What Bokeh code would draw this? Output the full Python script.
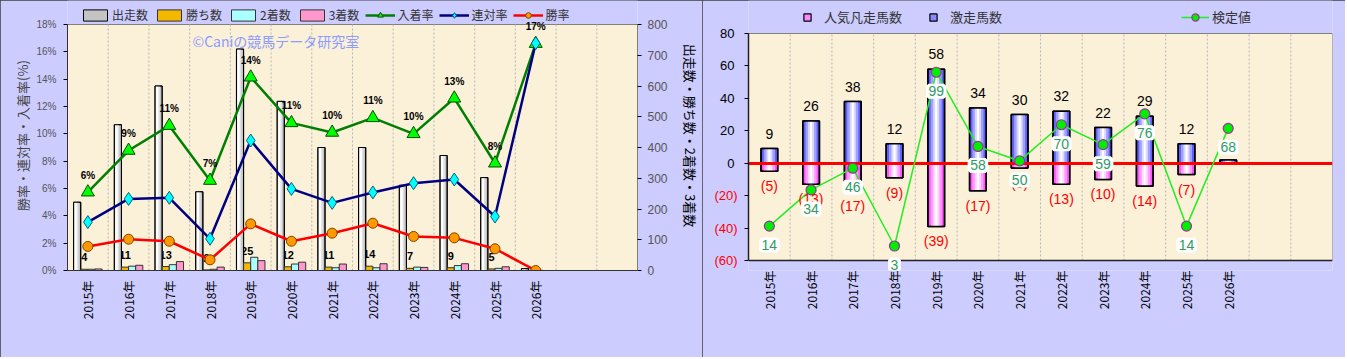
import math
from bokeh.plotting import figure
from bokeh.models import (Range1d, LinearAxis, FixedTicker, ColumnDataSource, Legend,
                          LegendItem, LabelSet, Label)
from bokeh.layouts import row
from bokeh.core.properties import value
from bokeh.embed import file_html
from bokeh.resources import INLINE

# ---------------- data ----------------
years = ["2015年", "2016年", "2017年", "2018年", "2019年", "2020年",
         "2021年", "2022年", "2023年", "2024年", "2025年", "2026年"]
runs = [222, 474, 600, 256, 720, 550, 400, 400, 277, 374, 302, 6]
wins = [4, 11, 13, 2, 25, 12, 11, 14, 7, 9, 5, 0]
seconds = [4, 14, 19, 4, 43, 21, 9, 9, 11, 16, 7, 1]
thirds = [5, 17, 29, 11, 32, 27, 21, 22, 10, 22, 12, 0]
place_rate = [5.73, 8.78, 10.6, 6.58, 14.14, 10.8, 10.1, 11.17, 10.0, 12.6, 7.85, 16.6]
quinella_rate = [3.54, 5.24, 5.32, 2.32, 9.51, 5.97, 4.95, 5.71, 6.39, 6.66, 3.95, 16.63]
win_rate = [1.76, 2.29, 2.14, 0.78, 3.41, 2.14, 2.73, 3.46, 2.49, 2.39, 1.59, 0.0]
rate_ticks = [0, 2, 4, 6, 8, 10, 12, 14, 16, 18]
count_ticks = [0, 100, 200, 300, 400, 500, 600, 700, 800]

fav_fail = [-5, -13, -17, -9, -39, -17, -3, -13, -10, -14, -7, 0]
surge = [9, 26, 38, 12, 58, 34, 30, 32, 22, 29, 12, 2]
kentei = [14, 34, 46, 3, 99, 58, 50, 70, 59, 76, 14, 68]
right_ticks = [-60, -40, -20, 0, 20, 40, 60, 80]
kentei_axis = [-5, 120.4]

# ---------------- style / layout ----------------
BG = "#ccccff"
PLOT_BG = "#fbf0d8"
JP = "Noto Sans CJK JP"
LAT = "Liberation Sans"
H = 357
FRAME_BOTTOM = 270          # both frames end here (frames in a row are aligned)
N_SLOTS = 14
n = len(years)
xs = [i + 0.5 for i in range(n)]
slot_edges = list(range(N_SLOTS + 1))
panel_style = {"outline": "1px solid #404040", "outline-offset": "-1px"}

# plot-area box, in canvas pixels (frame runs from the canvas top to FRAME_BOTTOM,
# the legend lives inside the frame above the plot area)
L_AREA_TOP, L_AREA_BOT = 24, 270
R_AREA_TOP, R_AREA_BOT = 33, 260


def extended(lo, hi, top_px, bot_px):
    per_px = (hi - lo) / (bot_px - top_px)
    return Range1d(lo - (FRAME_BOTTOM - bot_px) * per_px, hi + top_px * per_px)


# ================= LEFT CHART =================
r_lo, r_hi = rate_ticks[0], rate_ticks[-1]
c_lo, c_hi = count_ticks[0], count_ticks[-1]
pl = figure(width=702, height=H,
            x_range=Range1d(0, N_SLOTS),
            y_range=extended(r_lo, r_hi, L_AREA_TOP, L_AREA_BOT),
            output_backend="svg", toolbar_location=None,
            min_border_left=67, min_border_right=64, min_border_top=0,
            min_border_bottom=H - FRAME_BOTTOM,
            background_fill_color=BG, border_fill_color=BG,
            outline_line_color=None, styles=panel_style)
pl.extra_y_ranges = {"cnt": extended(c_lo, c_hi, L_AREA_TOP, L_AREA_BOT)}

xa = pl.xaxis[0]
xa.ticker = FixedTicker(ticks=xs)
xa.major_label_overrides = {x: y for x, y in zip(xs, years)}
xa.major_label_orientation = math.pi / 2
xa.major_tick_line_color = None
xa.minor_tick_line_color = None
xa.major_tick_out = 0
xa.minor_tick_out = 0
xa.axis_line_color = "#333333"
xa.major_label_text_font = JP
xa.major_label_text_font_size = "12px"
xa.major_label_text_color = "#000000"
xa.major_label_standoff = 10

ya = pl.yaxis[0]
ya.ticker = FixedTicker(ticks=rate_ticks)
ya.bounds = (r_lo, r_hi)
ya.major_label_overrides = {t: f"{t}%" for t in rate_ticks}
ya.major_label_text_font = LAT
ya.major_label_text_font_size = "10px"
ya.major_label_text_color = "#555555"
ya.major_tick_out = 4
ya.minor_tick_out = 0
ya.major_tick_in = 0
ya.major_label_standoff = 7
ya.axis_line_color = "#333333"
ya.axis_label = "勝率・連対率・入着率(%)"
ya.axis_label_text_font = JP
ya.axis_label_text_font_size = "13px"
ya.axis_label_text_font_style = "normal"
ya.axis_label_standoff = 1

ra = LinearAxis(y_range_name="cnt", ticker=FixedTicker(ticks=count_ticks),
                axis_label="出走数・勝ち数・2着数・3着数")
ra.bounds = (c_lo, c_hi)
ra.major_label_text_font = LAT
ra.major_label_text_font_size = "12px"
ra.major_label_text_color = "#555555"
ra.major_tick_out = 4
ra.minor_tick_out = 0
ra.major_tick_in = 0
ra.major_label_standoff = 6
ra.axis_line_color = "#808080"
ra.axis_label_text_font = JP
ra.axis_label_text_font_size = "13px"
ra.axis_label_text_font_style = "normal"
ra.axis_label_text_color = "#000000"
ra.axis_label_standoff = 10
pl.add_layout(ra, "right")

pl.xgrid.visible = False
pl.ygrid[0].grid_line_color = "#b8b8b8"
pl.ygrid[0].grid_line_dash = "2 2"

pl.quad(left=0, right=N_SLOTS, bottom=r_lo, top=r_hi, fill_color=PLOT_BG,
        line_color="#808080", line_width=1)
pl.segment(x0=slot_edges, y0=[r_lo] * len(slot_edges), x1=slot_edges,
           y1=[r_hi] * len(slot_edges), line_color="#b8b8b8", line_dash="2 2", line_width=1)

bw = 0.175
offs = [-0.2625, -0.0875, 0.0875, 0.2625]
lsrc = ColumnDataSource(dict(
    x0=[x + offs[0] for x in xs], x1=[x + offs[1] for x in xs],
    x2=[x + offs[2] for x in xs], x3=[x + offs[3] for x in xs],
    x0a=[x + offs[0] - bw * 0.12 for x in xs], x0b=[x + offs[0] - bw * 0.2 for x in xs],
    runs=runs, wins=wins, seconds=seconds, thirds=thirds,
    wlab=[str(w) if w > 0 else "" for w in wins],
    prate=place_rate, qrate=quinella_rate, wrate=win_rate,
    plab=[f"{round(r)}%" for r in place_rate],
    xc=xs))

pl.text(x="x1", y="wins", text="wlab", source=lsrc, y_range_name="cnt",
        text_align="center", text_baseline="middle", y_offset=-12,
        text_font=value(LAT), text_font_size="11px", text_font_style="bold",
        text_color="#000000")

r_run = pl.vbar(x="x0", top="runs", bottom=0, width=bw, source=lsrc, y_range_name="cnt",
                fill_color="#c4c4c4", line_color="#000000", line_width=1)
pl.vbar(x="x0a", top="runs", bottom=0, width=bw * 0.62, source=lsrc, y_range_name="cnt",
        fill_color="#e2e2e2", line_color=None)
pl.vbar(x="x0b", top="runs", bottom=0, width=bw * 0.3, source=lsrc, y_range_name="cnt",
        fill_color="#ffffff", line_color=None)
pl.vbar(x="x0", top="runs", bottom=0, width=bw, source=lsrc, y_range_name="cnt",
        fill_color=None, line_color="#000000", line_width=1)

r_win = pl.vbar(x="x1", top="wins", bottom=0, width=bw, source=lsrc, y_range_name="cnt",
                fill_color="#f5b800", line_color="#333333", line_width=1)
r_sec = pl.vbar(x="x2", top="seconds", bottom=0, width=bw, source=lsrc, y_range_name="cnt",
                fill_color="#aaffff", line_color="#333333", line_width=1)
r_thi = pl.vbar(x="x3", top="thirds", bottom=0, width=bw, source=lsrc, y_range_name="cnt",
                fill_color="#ff99cc", line_color="#333333", line_width=1)

gl = pl.line(x="xc", y="prate", source=lsrc, line_color="#008000", line_width=2.5)
gm = pl.scatter(x="xc", y="prate", source=lsrc, marker="triangle", size=13,
                fill_color="#00ff00", line_color="#005000", line_width=1)
nl = pl.line(x="xc", y="qrate", source=lsrc, line_color="#000080", line_width=2.5)
nm = pl.scatter(x="xc", y="qrate", source=lsrc, marker="diamond", size=13,
                fill_color="#00ffff", line_color="#006080", line_width=1)
rl = pl.line(x="xc", y="wrate", source=lsrc, line_color="#ff0000", line_width=2.5)
rm = pl.scatter(x="xc", y="wrate", source=lsrc, marker="circle", size=10,
                fill_color="#ff9900", line_color="#804000", line_width=1)

pl.add_layout(LabelSet(x="xc", y="prate", text="plab", source=lsrc, y_offset=17,
                       text_align="center", text_baseline="middle",
                       text_font=value(LAT), text_font_size="10px",
                       text_font_style="bold", text_color="#000000"))

pl.add_layout(Label(x=3.07, y=16.8, text="©Caniの競馬データ研究室", text_font=JP,
                    text_font_size="14px", text_color="#8c9cff",
                    text_baseline="middle", text_align="left"))

leg_l = Legend(items=[
    LegendItem(label="出走数", renderers=[r_run]),
    LegendItem(label="勝ち数", renderers=[r_win]),
    LegendItem(label="2着数", renderers=[r_sec]),
    LegendItem(label="3着数", renderers=[r_thi]),
    LegendItem(label="入着率", renderers=[gl, gm]),
    LegendItem(label="連対率", renderers=[nl, nm]),
    LegendItem(label="勝率", renderers=[rl, rm]),
], location=(13, FRAME_BOTTOM - 23), orientation="horizontal", background_fill_alpha=0,
    border_line_color=None, padding=0, margin=0, spacing=6, label_standoff=2,
    glyph_width=30, glyph_height=14, label_height=14,
    label_text_font=JP, label_text_font_size="12px", label_text_color="#333333")
pl.add_layout(leg_l, "center")

# ================= RIGHT CHART =================
y_lo, y_hi = right_ticks[0], right_ticks[-1]
k_lo, k_hi = kentei_axis
pr = figure(width=643, height=H, x_range=Range1d(0, N_SLOTS),
            y_range=extended(y_lo, y_hi, R_AREA_TOP, R_AREA_BOT),
            output_backend="svg", toolbar_location=None,
            min_border_left=46, min_border_right=13, min_border_top=0,
            min_border_bottom=H - FRAME_BOTTOM,
            background_fill_color=BG, border_fill_color=BG,
            outline_line_color=None, styles=panel_style)
pr.extra_y_ranges = {"kt": extended(k_lo, k_hi, R_AREA_TOP, R_AREA_BOT),
                     "legend_only": Range1d(10000, 10001)}

xb = pr.xaxis[0]
xb.ticker = FixedTicker(ticks=xs)
xb.major_label_overrides = {x: y for x, y in zip(xs, years)}
xb.major_label_orientation = math.pi / 2
xb.major_tick_line_color = None
xb.minor_tick_line_color = None
xb.major_tick_out = 0
xb.minor_tick_out = 0
xb.axis_line_color = None
xb.major_label_text_font = JP
xb.major_label_text_font_size = "12px"
xb.major_label_text_color = "#000000"
xb.major_label_standoff = 0

neg_ticks = [t for t in right_ticks if t < 0]
yb = pr.yaxis[0]
yb.ticker = FixedTicker(ticks=right_ticks)
yb.bounds = (y_lo, y_hi)
yb.major_label_overrides = {t: (str(t) if t >= 0 else "") for t in right_ticks}
yb.major_label_text_font = LAT
yb.major_label_text_font_size = "13px"
yb.major_label_text_color = "#000000"
yb.major_tick_out = 4
yb.minor_tick_out = 0
yb.major_tick_in = 0
yb.major_label_standoff = 10
yb.axis_line_color = "#222222"
yb.axis_line_width = 1.5

# red labels of the negative ticks: an outer axis whose labels are pulled back
# next to the frame with a negative standoff
yneg = LinearAxis(ticker=FixedTicker(ticks=neg_ticks))
yneg.major_label_overrides = {t: f"({-t})" for t in neg_ticks}
yneg.major_label_text_font = LAT
yneg.major_label_text_font_size = "13px"
yneg.major_label_text_color = "#ff0000"
yneg.axis_line_color = None
yneg.major_tick_line_color = None
yneg.minor_tick_line_color = None
yneg.major_tick_out = 0
yneg.minor_tick_out = 0
yneg.major_tick_in = 0
yneg.major_label_standoff = -20
pr.add_layout(yneg, "left")

pr.xgrid.visible = False
pr.ygrid[0].ticker = FixedTicker(ticks=right_ticks)
pr.ygrid[0].grid_line_color = "#b8b8b8"
pr.ygrid[0].grid_line_dash = "2 2"

pr.quad(left=0, right=N_SLOTS, bottom=y_lo, top=y_hi, fill_color=PLOT_BG,
        line_color="#808080", line_width=1)
pr.segment(x0=slot_edges, y0=[y_lo] * len(slot_edges), x1=slot_edges,
           y1=[y_hi] * len(slot_edges), line_color="#b8b8b8", line_dash="2 2", line_width=1)
pr.segment(x0=[0], y0=[y_lo], x1=[N_SLOTS], y1=[y_lo], line_color="#222222", line_width=1.5)

bw2 = 0.4
rsrc = ColumnDataSource(dict(
    x=xs, neg=fav_fail, pos=surge, kt=kentei,
    plab=[str(v) for v in surge],
    nlab=[f"({-v})" if v < 0 else "" for v in fav_fail],
    klab=[str(v) for v in kentei]))

pr.vbar(x="x", top=0, bottom="neg", width=bw2, source=rsrc,
        fill_color="#ff55ff", line_color="#000000", line_width=1.5)
pr.vbar(x="x", top=0, bottom="neg", width=bw2 * 0.66, source=rsrc,
        fill_color="#ff9dff", line_color=None)
pr.vbar(x="x", top=0, bottom="neg", width=bw2 * 0.36, source=rsrc,
        fill_color="#ffd9ff", line_color=None)
pr.vbar(x="x", top=0, bottom="neg", width=bw2 * 0.12, source=rsrc,
        fill_color="#ffffff", line_color=None)
pr.vbar(x="x", top=0, bottom="neg", width=bw2, source=rsrc,
        fill_color=None, line_color="#000000", line_width=1.5)

pr.vbar(x="x", top="pos", bottom=0, width=bw2, source=rsrc,
        fill_color="#6060ff", line_color="#000000", line_width=1.5)
pr.vbar(x="x", top="pos", bottom=0, width=bw2 * 0.66, source=rsrc,
        fill_color="#a0a0ff", line_color=None)
pr.vbar(x="x", top="pos", bottom=0, width=bw2 * 0.36, source=rsrc,
        fill_color="#dadaff", line_color=None)
pr.vbar(x="x", top="pos", bottom=0, width=bw2 * 0.12, source=rsrc,
        fill_color="#ffffff", line_color=None)
pr.vbar(x="x", top="pos", bottom=0, width=bw2, source=rsrc,
        fill_color=None, line_color="#000000", line_width=1.5)

pr.hspan(y=[0], line_color="#ff0000", line_width=3)

kl = pr.line(x="x", y="kt", source=rsrc, y_range_name="kt", line_color="#22ee22", line_width=1.5)
km = pr.scatter(x="x", y="kt", source=rsrc, y_range_name="kt", marker="circle", size=10,
                fill_color="#00ee00", line_color="#993399", line_width=1.2)

pr.add_layout(LabelSet(x="x", y="pos", text="plab", source=rsrc, y_offset=15,
                       text_align="center", text_baseline="middle",
                       text_font=value(LAT), text_font_size="14px", text_color="#000000"))
pr.add_layout(LabelSet(x="x", y="neg", text="nlab", source=rsrc, y_offset=-15,
                       text_align="center", text_baseline="middle",
                       text_font=value(LAT), text_font_size="14px", text_color="#ff0000"))
pr.add_layout(LabelSet(x="x", y="kt", text="klab", source=rsrc, y_range_name="kt",
                       y_offset=-19, text_align="center", text_baseline="middle",
                       text_font=value(LAT), text_font_size="14px", text_color="#2f9a66",
                       background_fill_color="#ffffff", border_line_color="#ffffff",
                       border_line_width=5))

# legend-only square icons: their points fall on a range that is never in view
px_neg = pr.scatter(x="x", y="neg", source=rsrc, y_range_name="legend_only",
                    marker="square", size=8,
                    fill_color="#ff88ff", line_color="#000000", line_width=1.2)
px_pos = pr.scatter(x="x", y="pos", source=rsrc, y_range_name="legend_only",
                    marker="square", size=8,
                    fill_color="#8888ff", line_color="#000000", line_width=1.2)
px_gap = pr.scatter(x="x", y="pos", source=rsrc, y_range_name="legend_only",
                    marker="square", size=8, fill_alpha=0, line_alpha=0)

leg_r = Legend(items=[
    LegendItem(label="人気凡走馬数", renderers=[px_neg]),
    LegendItem(label="激走馬数", renderers=[px_pos]),
    LegendItem(label=" ", renderers=[px_gap]),
    LegendItem(label=" ", renderers=[px_gap]),
    LegendItem(label="検定値", renderers=[kl, km]),
], location=(45, FRAME_BOTTOM - 26), orientation="horizontal", background_fill_alpha=0,
    border_line_color=None, padding=0, margin=0, spacing=17, label_standoff=3,
    glyph_width=28, glyph_height=18, label_height=18, label_width=33,
    label_text_font=JP, label_text_font_size="13px", label_text_color="#333333")
pr.add_layout(leg_r, "center")

layout = row(pl, pr)
open("out.html", "w").write(file_html(layout, INLINE))
